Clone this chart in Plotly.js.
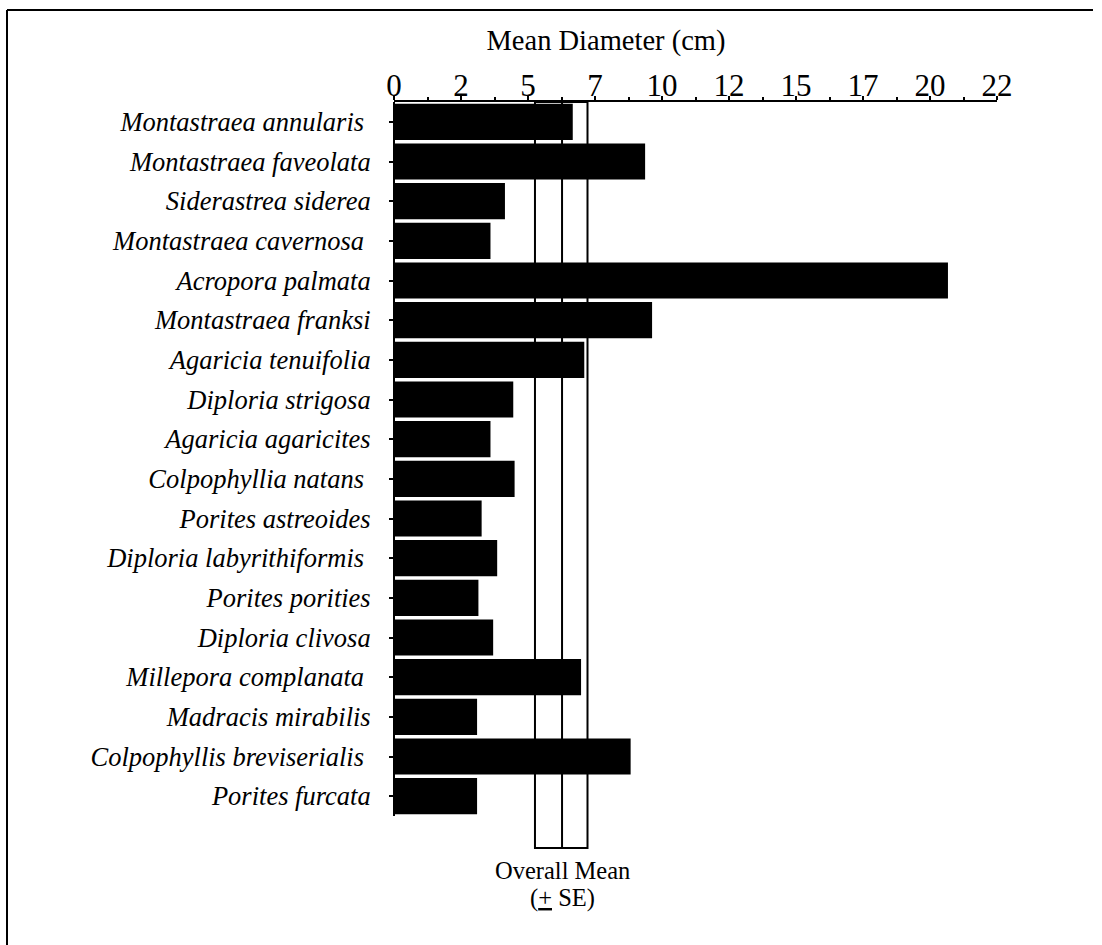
<!DOCTYPE html>
<html>
<head>
<meta charset="utf-8">
<script src="https://cdn.plot.ly/plotly-3.0.1.min.js"></script>
<style>
html,body{margin:0;padding:0;background:#fff;}
#chart{width:1102px;height:945px;}
</style>
</head>
<body>
<div id="chart"></div>
<script>
var species = [
  "Montastraea annularis\u00a0",
  "Montastraea faveolata",
  "Siderastrea siderea",
  "Montastraea cavernosa\u00a0",
  "Acropora palmata",
  "Montastraea franksi",
  "Agaricia tenuifolia",
  "Diploria strigosa",
  "Agaricia agaricites",
  "Colpophyllia natans\u00a0",
  "Porites astreoides",
  "Diploria labyrithiformis\u00a0",
  "Porites porities",
  "Diploria clivosa",
  "Millepora complanata\u00a0",
  "Madracis mirabilis",
  "Colpophyllis breviserialis\u00a0",
  "Porites furcata"
];
var meanDiameter = [6.67, 9.37, 4.14, 3.6, 20.67, 9.63, 7.1, 4.45, 3.6, 4.5, 3.27, 3.85, 3.15, 3.7, 6.98, 3.1, 8.83, 3.1];
var overallMean = 6.27;
var overallSELow = 5.26;
var overallSEHigh = 7.22;
var tickValues = [0, 2.5, 5, 7.5, 10, 12.5, 15, 17.5, 20, 22.5];
var tickLabels = ["0", "2", "5", "7", "10", "12", "15", "17", "20", "22"];

var serif = "Liberation Serif";

var trace = {
  type: "bar",
  orientation: "h",
  y: species,
  x: meanDiameter,
  marker: {color: "#000000", line: {width: 0}},
  hoverinfo: "x+y"
};

var plotW = 603, plotH = 714, L = 394, T = 102;
function px(x){ return (x - L) / plotW; }
function py(y){ return (T + plotH - y) / plotH; }

var layout = {
  width: 1102,
  height: 945,
  margin: {l: 394, r: 105, t: 102, b: 129, pad: 0},
  paper_bgcolor: "#ffffff",
  plot_bgcolor: "rgba(0,0,0,0)",
  showlegend: false,
  bargap: 0.09,
  font: {family: serif, color: "#000000"},
  title: {
    text: "Mean Diameter (cm)",
    font: {family: serif, size: 28.5, color: "#000"},
    x: 606 / 1102, xanchor: "center", xref: "container",
    y: 1 - 40 / 945, yanchor: "middle", yref: "container"
  },
  xaxis: {
    side: "top",
    range: [0, 22.5],
    tickmode: "array",
    tickvals: tickValues,
    ticktext: tickLabels,
    ticks: "outside",
    ticklen: 4,
    tickwidth: 2,
    tickcolor: "#000",
    ticklabelstandoff: -12,
    minor: {dtick: 1.25, tick0: 0, ticks: "outside", ticklen: 3, tickwidth: 2, tickcolor: "#000", showgrid: false},
    showline: true,
    linecolor: "#000",
    linewidth: 2,
    showgrid: false,
    zeroline: false,
    tickfont: {family: serif, size: 31, color: "#000"},
    fixedrange: true
  },
  yaxis: {
    type: "category",
    categoryorder: "array",
    categoryarray: species,
    autorange: "reversed",
    ticks: "outside",
    ticklen: 4,
    tickwidth: 2,
    tickcolor: "#000",
    showline: false,
    showgrid: false,
    zeroline: false,
    ticklabelstandoff: 13,
    tickfont: {family: serif, size: 26.5, color: "#000", style: "italic"},
    fixedrange: true
  },
  shapes: [
    {type: "rect", layer: "below", xref: "x", yref: "paper", x0: overallSELow, x1: overallSEHigh, y0: py(848), y1: 1, line: {color: "#000", width: 2}, fillcolor: "rgba(0,0,0,0)"},
    {type: "line", layer: "below", xref: "x", yref: "paper", x0: overallMean, x1: overallMean, y0: py(848), y1: 1, line: {color: "#000", width: 2}},
    {type: "line", layer: "below", xref: "paper", yref: "paper", x0: 0, x1: 0, y0: 0, y1: 1, line: {color: "#000", width: 2}},
    {type: "line", layer: "above", xref: "paper", yref: "paper", x0: px(7), x1: px(1093), y0: py(10), y1: py(10), line: {color: "#000", width: 2}},
    {type: "line", layer: "above", xref: "paper", yref: "paper", x0: px(7), x1: px(7), y0: py(10), y1: py(945), line: {color: "#000", width: 2}}
  ],
  annotations: [
    {xref: "x", yref: "paper", x: overallMean, y: py(870), text: "Overall Mean", showarrow: false, xanchor: "center", yanchor: "middle", font: {family: serif, size: 24.5, color: "#000"}},
    {xref: "x", yref: "paper", x: overallMean, y: py(898), text: "(<u>+</u> SE)", showarrow: false, xanchor: "center", yanchor: "middle", font: {family: serif, size: 24.5, color: "#000"}}
  ]
};

Plotly.newPlot("chart", [trace], layout, {displayModeBar: false, staticPlot: true});
</script>
</body>
</html>
